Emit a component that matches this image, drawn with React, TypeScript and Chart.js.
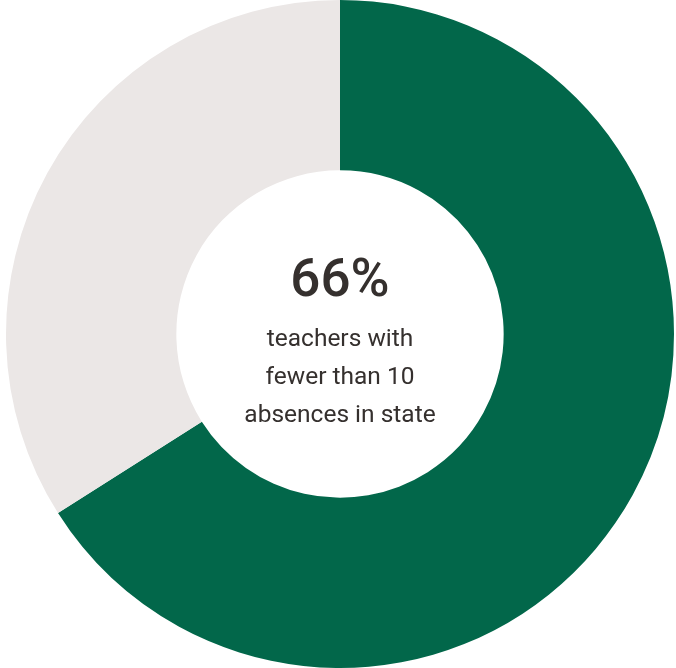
import React, { useEffect, useRef } from "react";
import { Chart, registerables } from "chart.js";

Chart.register(...registerables);

const categories = ["Fewer than 10 absences", "10 or more absences"];
const values = [66, 34];
const colors = ["#02674A", "#EBE7E6"];
const headline = "66%";
const captionLines = ["teachers with", "fewer than 10", "absences in state"];

const centerText = {
  id: "centerText",
  afterDraw(chart: any) {
    const meta = chart.getDatasetMeta(0);
    const arc = meta.data[0];
    if (!arc) return;
    const { x, y } = arc;
    const ctx = chart.ctx;
    ctx.save();
    ctx.textAlign = "center";
    ctx.textBaseline = "middle";
    ctx.fillStyle = "#35302e";
    ctx.font = "500 53px Roboto, 'DejaVu Sans', sans-serif";
    ctx.fillText(headline, x, y - 51);
    ctx.font = "400 24.5px Roboto, 'DejaVu Sans', sans-serif";
    captionLines.forEach((line, i) => {
      ctx.fillText(line, x, y + 6 + i * 38);
    });
    ctx.restore();
  },
};

export default function App() {
  const ref = useRef<HTMLCanvasElement>(null);
  useEffect(() => {
    if (!ref.current) return;
    const chart = new Chart(ref.current, {
      type: "doughnut",
      data: {
        labels: categories,
        datasets: [
          {
            data: values,
            backgroundColor: colors,
            borderWidth: 0,
          },
        ],
      },
      options: {
        responsive: false,
        animation: false,
        cutout: "49%",
        layout: { padding: { left: 4, right: 0, top: 0, bottom: 0 } },
        plugins: {
          legend: { display: false },
          tooltip: { enabled: false },
        },
      },
      plugins: [centerText],
    });
    return () => chart.destroy();
  }, []);
  return (
    <div style={{ position: "fixed", left: 0, top: 0, width: 676, height: 668, background: "#fff" }}>
      <canvas ref={ref} width={676} height={668} style={{ width: 676, height: 668 }} />
    </div>
  );
}
